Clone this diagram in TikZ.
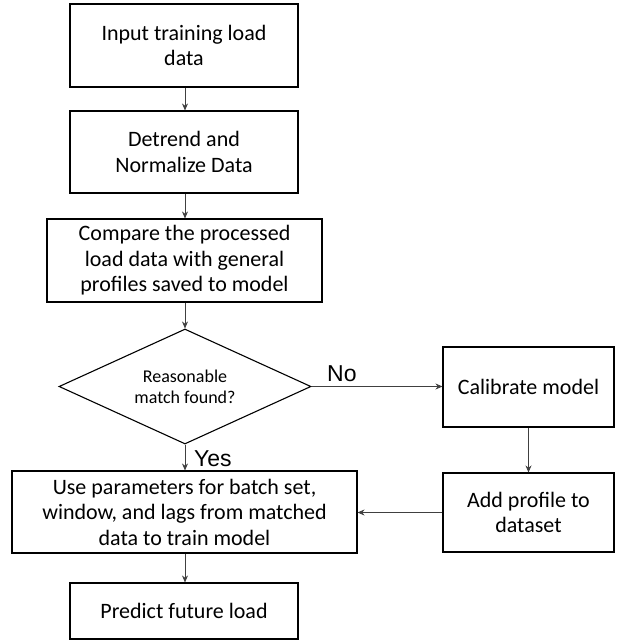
\documentclass[tikz,border=0pt]{standalone}
\usepackage{fontspec}
\setmainfont{Carlito}
\newfontfamily\arialfont{Liberation Sans}
\usetikzlibrary{shapes.geometric,arrows.meta}
\begin{document}
\begin{tikzpicture}[x=1pt,y=1pt,
  stepbox/.style={draw=black,line width=1.1pt,rectangle,inner sep=2pt,align=center,
    font=\fontsize{22}{25.5}\selectfont},
  decision/.style={draw=black,line width=1.1pt,diamond,inner sep=0pt,
    minimum width=252pt,minimum height=115pt},
  dtext/.style={align=center,inner sep=0pt,font=\fontsize{18}{21}\selectfont},
  conn/.style={draw=black!75,line width=0.7pt,-{Stealth[length=7pt,width=6pt]}},
  lbl/.style={font=\arialfont\fontsize{23}{26}\selectfont,inner sep=0pt}]
\useasboundingbox (0,0) rectangle (619,-640);
\node[stepbox,minimum width=228pt,minimum height=83pt] (b1) at (184,-45.5) {Input training load\\data};
\node[stepbox,minimum width=228pt,minimum height=82pt] (b2) at (184,-152) {Detrend and\\Normalize Data};
\node[stepbox,minimum width=275pt,minimum height=83pt] (b3) at (184.5,-260.5) {Compare the processed\\load data with general\\profiles saved to model};
\node[decision] (d) at (185,-386.5) {};
\node[dtext] (dt) at (d.center) {Reasonable\\match found?};
\node[stepbox,minimum width=171pt,minimum height=80pt] (cal) at (528.5,-387) {Calibrate model};
\node[stepbox,minimum width=171pt,minimum height=79pt] (add) at (528.5,-512.5) {Add profile to\\dataset};
\node[stepbox,minimum width=345pt,minimum height=82pt] (use) at (184.5,-512) {Use parameters for batch set,\\window, and lags from matched\\data to train model};
\node[stepbox,minimum width=228pt,minimum height=56pt] (pred) at (184,-611) {Predict future load};
\draw[conn] (b1.south -| 185,0) -- (b2.north -| 185,0);
\draw[conn] (b2.south -| 185,0) -- (b3.north -| 185,0);
\draw[conn] (b3.south -| 185,0) -- (d.north);
\draw[conn] (d.east) -- (cal.west |- d.east);
\draw[conn] (cal.south) -- (add.north);
\draw[conn] (d.south) -- (use.north -| d.south);
\draw[conn] (add.west) -- (use.east |- add.west);
\draw[conn] (use.south -| 185,0) -- (pred.north -| 185,0);
\node[lbl,anchor=base west] (no) at (327,-381) {No};
\node[lbl,anchor=base west] (yes) at (194,-466) {Yes};
\end{tikzpicture}
\end{document}
